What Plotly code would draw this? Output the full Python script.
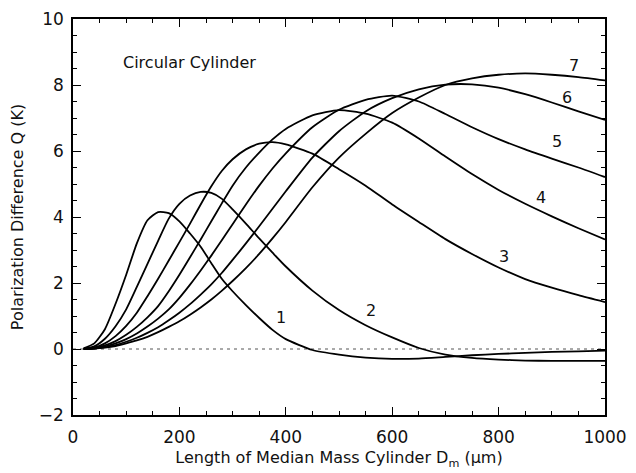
import plotly.graph_objects as go

# Median mass cylinder length D_m (micrometres)
d_m = [20, 40, 60, 80, 100, 120, 140, 160, 180, 200, 220, 240, 260, 280, 300,
       325, 350, 375, 400, 450, 500, 550, 600, 650, 700, 750, 800, 850, 900, 950, 1000]

# Polarization difference Q (K) for curves 1..7
q1 = [0.02, 0.17, 0.6, 1.37, 2.25, 3.2, 3.9, 4.15, 4.12, 3.87, 3.5, 3.1, 2.6, 2.12, 1.75,
      1.33, 0.94, 0.58, 0.3, -0.03, -0.17, -0.26, -0.3, -0.29, -0.24, -0.19, -0.15, -0.12, -0.09, -0.07, -0.05]
q2 = [0.01, 0.08, 0.31, 0.69, 1.2, 1.88, 2.58, 3.28, 3.95, 4.4, 4.65, 4.76, 4.73, 4.55, 4.23,
      3.8, 3.35, 2.92, 2.5, 1.77, 1.18, 0.72, 0.35, 0.03, -0.17, -0.27, -0.32, -0.35, -0.36, -0.36, -0.36]
q3 = [0.0, 0.04, 0.17, 0.39, 0.7, 1.1, 1.6, 2.13, 2.68, 3.24, 3.8, 4.38, 4.93, 5.4, 5.75,
      6.05, 6.22, 6.27, 6.2, 5.92, 5.45, 4.95, 4.38, 3.85, 3.33, 2.88, 2.47, 2.12, 1.86, 1.63, 1.42]
q4 = [0.0, 0.03, 0.11, 0.24, 0.43, 0.67, 0.96, 1.3, 1.75, 2.25, 2.78, 3.32, 3.87, 4.42, 4.95,
      5.5, 5.95, 6.35, 6.67, 7.08, 7.24, 7.13, 6.86, 6.38, 5.83, 5.3, 4.82, 4.4, 4.02, 3.66, 3.32]
q5 = [0.0, 0.02, 0.075, 0.17, 0.3, 0.47, 0.68, 0.92, 1.2, 1.55, 1.95, 2.38, 2.83, 3.3, 3.78,
      4.38, 4.95, 5.47, 5.93, 6.72, 7.25, 7.55, 7.68, 7.5, 7.12, 6.72, 6.36, 6.05, 5.77, 5.5, 5.21]
q6 = [0.0, 0.013, 0.055, 0.12, 0.22, 0.34, 0.49, 0.66, 0.87, 1.1, 1.36, 1.65, 1.96, 2.31, 2.7,
      3.2, 3.72, 4.25, 4.78, 5.8, 6.6, 7.2, 7.6, 7.87, 8.01, 8.02, 7.92, 7.72, 7.47, 7.2, 6.94]
q7 = [0.0, 0.01, 0.04, 0.09, 0.17, 0.26, 0.37, 0.51, 0.67, 0.84, 1.04, 1.26, 1.5, 1.77, 2.06,
      2.45, 2.88, 3.35, 3.85, 4.9, 5.8, 6.52, 7.15, 7.62, 8.0, 8.2, 8.31, 8.35, 8.31, 8.24, 8.14]

series = [q1, q2, q3, q4, q5, q6, q7]
curve_names = ["1", "2", "3", "4", "5", "6", "7"]
# label anchor positions (data coords) for curve numbers
label_x = [391, 560, 811, 879, 910, 929, 941]
label_y = [0.96, 1.16, 2.79, 4.59, 6.28, 7.61, 8.6]

FONT = "DejaVu Sans"
INK = "#111111"

fig = go.Figure()
for name, q in zip(curve_names, series):
    fig.add_trace(go.Scatter(x=d_m, y=q, mode="lines", name=name,
                             line=dict(color="black", width=1.8, shape="spline", smoothing=0.6),
                             showlegend=False))

fig.add_hline(y=0, line=dict(color="#555555", width=1, dash="3px,4px"), layer="below")

for name, lx, ly in zip(curve_names, label_x, label_y):
    fig.add_annotation(x=lx, y=ly, text=name, showarrow=False,
                       font=dict(family=FONT, size=16, color=INK))

fig.add_annotation(x=90, y=8.68, text="Circular Cylinder", showarrow=False, xanchor="left",
                   font=dict(family=FONT, size=16, color=INK))

axis_common = dict(showgrid=False, zeroline=False, showline=True, linecolor="black", linewidth=1.5,
                   mirror="ticks", ticks="inside", ticklen=8, tickwidth=1.2, tickcolor="black",
                   tickfont=dict(family=FONT, size=17, color=INK))

fig.update_xaxes(range=[0, 1000], dtick=200, tick0=0,
                 minor=dict(dtick=50, ticks="inside", ticklen=4, tickcolor="black", tickwidth=1.2),
                 title=dict(text="Length of Median Mass Cylinder D<sub>m</sub> (μm)",
                            font=dict(family=FONT, size=16, color=INK), standoff=6),
                 ticklabelstandoff=6,
                 **axis_common)
fig.update_yaxes(range=[-2, 10], dtick=2, tick0=0,
                 minor=dict(dtick=0.5, ticks="inside", ticklen=4, tickcolor="black", tickwidth=1.2),
                 title=dict(text="Polarization Difference Q (K)",
                            font=dict(family=FONT, size=16, color=INK), standoff=11),
                 ticklabelstandoff=4,
                 **axis_common)

fig.update_layout(width=636, height=473, margin=dict(l=73, r=25, t=9, b=58),
                  plot_bgcolor="white", paper_bgcolor="white")

fig.write_html("out.html", config={"displayModeBar": False},
               post_script="document.body.style.margin='0';")
